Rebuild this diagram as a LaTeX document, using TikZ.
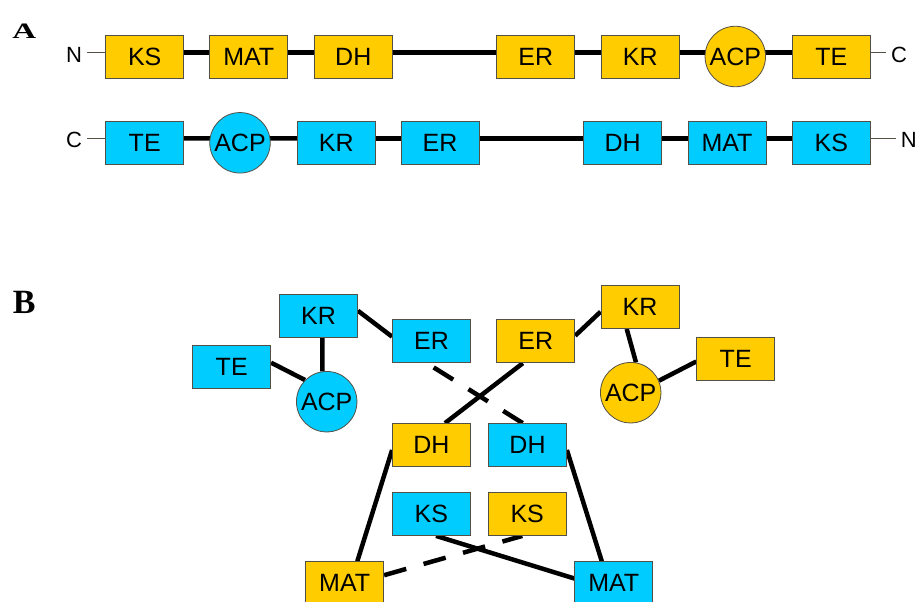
\documentclass[tikz,border=0pt]{standalone}
\usepackage{fontspec}
\setmainfont{Liberation Sans}
\newfontfamily\panelfont{Liberation Serif}
\usetikzlibrary{backgrounds}
\definecolor{pksorange}{RGB}{255,204,0}
\definecolor{pksblue}{RGB}{0,204,255}
\definecolor{rimgray}{RGB}{85,80,70}

\begin{document}
\begin{tikzpicture}[x=1pt,y=-1pt,
  dom/.style={draw=rimgray, line width=0.8pt, minimum width=78pt, minimum height=43pt,
    inner sep=0pt, font=\fontsize{25}{25}\selectfont},
  acp/.style={circle, draw=rimgray, line width=0.8pt, minimum size=60.5pt,
    inner sep=0pt, font=\fontsize{25}{25}\selectfont},
  orng/.style={fill=pksorange},
  blu/.style={fill=pksblue},
  link/.style={line width=4.5pt},
  dlink/.style={line width=4.5pt, dash pattern=on 23pt off 18pt},
  tail/.style={line width=1pt, draw=rimgray},
  term/.style={font=\fontsize{22}{22}\selectfont, inner ysep=0pt, inner xsep=5pt},
  panel/.style={font=\panelfont\bfseries, inner sep=0pt}]

\useasboundingbox (0,0) rectangle (919,602);

% panel letters
\node[panel] (labA) at (24.2,31.2) {\fontsize{22}{22}\selectfont\scalebox{1.5}[1]{A}};
\node[panel] (labB) at (24.2,302) {\fontsize{34}{34}\selectfont B};

% ---- A: the two chains ----
% upper chain, N to C
\node[term] (nA) at (74,54.5) {N};
\node[dom,orng] (oKSa)  at (144.7,56.7) {KS};
\node[dom,orng] (oMATa) at (248.8,56.7) {MAT};
\node[dom,orng] (oDHa)  at (353.3,56.7) {DH};
\node[dom,orng] (oERa)  at (535.7,56.7) {ER};
\node[dom,orng] (oKRa)  at (640.2,56.7) {KR};
\node[acp,orng] (oACPa) at (735.3,56.5) {ACP};
\node[dom,orng] (oTEa)  at (831.3,56.7) {TE};
\node[term] (cA) at (899,54.5) {C};

% lower chain, C to N
\node[term] (cB) at (74,140) {C};
\node[dom,blu] (bTEb)  at (144.7,143.2) {TE};
\node[acp,blu] (bACPb) at (240,142.8) {ACP};
\node[dom,blu] (bKRb)  at (336.2,143.2) {KR};
\node[dom,blu] (bERb)  at (440,143.2) {ER};
\node[dom,blu] (bDHb)  at (622.7,143.2) {DH};
\node[dom,blu] (bMATb) at (727,143.2) {MAT};
\node[dom,blu] (bKSb)  at (831.3,143.2) {KS};
\node[term] (nB) at (908.7,140) {N};

% ---- B: the interleaved dimer ----
\node[dom,blu]  (bKR)  at (318.5,315.5) {KR};
\node[dom,blu]  (bER)  at (431.5,341.3) {ER};
\node[dom,blu]  (bTE)  at (231.7,367.3) {TE};
\node[acp,blu]  (bACP) at (326.7,401.7) {ACP};
\node[dom,orng] (oER)  at (535.8,341.3) {ER};
\node[dom,orng] (oKR)  at (640,307) {KR};
\node[dom,orng] (oTE)  at (735.7,358.5) {TE};
\node[acp,orng] (oACP) at (630.7,392.7) {ACP};
\node[dom,orng] (oDH)  at (431.5,445) {DH};
\node[dom,blu]  (bDH)  at (527.5,445) {DH};
\node[dom,blu]  (bKS)  at (431.3,514) {KS};
\node[dom,orng] (oKS)  at (527.2,514) {KS};
\node[dom,orng] (oMAT) at (344.7,583.2) {MAT};
\node[dom,blu]  (bMAT) at (613.8,583.2) {MAT};

\begin{scope}[on background layer]
  % upper chain linkers
  \draw[link] ([yshift=4.4pt]oKSa.east)  -- ([yshift=4.4pt]oMATa.west);
  \draw[link] ([yshift=4.4pt]oMATa.east) -- ([yshift=4.4pt]oDHa.west);
  \draw[link] ([yshift=4.4pt]oDHa.east)  -- ([yshift=4.4pt]oERa.west);
  \draw[link] ([yshift=4.4pt]oERa.east)  -- ([yshift=4.4pt]oKRa.west);
  \draw[link] ([yshift=4.4pt]oKRa.east)  -- ([yshift=4.2pt]oACPa.center);
  \draw[link] ([yshift=4.2pt]oACPa.center) -- ([yshift=4.4pt]oTEa.west);
  \coordinate (jA1) at ([yshift=4.4pt]oKSa.west);
  \coordinate (jA2) at ([yshift=4.4pt]oTEa.east);
  \draw[tail] (nA.east |- jA1) -- (jA1);
  \draw[tail] (jA2) -- (cA.west |- jA2);

  % lower chain linkers
  \draw[link] ([yshift=4.8pt]bTEb.east)  -- ([yshift=4.4pt]bACPb.center);
  \draw[link] ([yshift=4.4pt]bACPb.center) -- ([yshift=4.8pt]bKRb.west);
  \draw[link] ([yshift=4.8pt]bKRb.east)  -- ([yshift=4.8pt]bERb.west);
  \draw[link] ([yshift=4.8pt]bERb.east)  -- ([yshift=4.8pt]bDHb.west);
  \draw[link] ([yshift=4.8pt]bDHb.east)  -- ([yshift=4.8pt]bMATb.west);
  \draw[link] ([yshift=4.8pt]bMATb.east) -- ([yshift=4.8pt]bKSb.west);
  \coordinate (jB1) at ([yshift=4.8pt]bTEb.west);
  \coordinate (jB2) at ([yshift=4.8pt]bKSb.east);
  \draw[tail] (cB.east |- jB1) -- (jB1);
  \draw[tail] (jB2) -- (nB.west |- jB2);

  % dimer contacts, blue subunit
  \draw[link] ([yshift=4.8pt]bKR.east) -- ([yshift=4.6pt]bER.west);
  \draw[link] ([xshift=3.8pt]bKR.south) -- (bACP.98);
  \draw[link] ([yshift=4.6pt]bTE.east) -- (bACP.135);
  \draw[link] ([yshift=-5pt]bDH.east) -- ([xshift=-12pt]bMAT.north);
  \draw[link] ([xshift=4.7pt]bKS.south) -- ([yshift=4.7pt]bMAT.west);
  \draw[dlink] ([xshift=-4.8pt]bDH.north) -- ([xshift=1.8pt,yshift=-4pt]bER.south);

  % dimer contacts, orange subunit
  \draw[link] ([yshift=5.6pt]oER.east) -- ([yshift=-4.7pt]oKR.west);
  \draw[link] ([xshift=-13.3pt]oKR.south) -- (oACP.80);
  \draw[link] (oACP.23) -- ([yshift=-3pt]oTE.west);
  \draw[link] ([xshift=-13pt]oER.south) -- ([xshift=13.5pt]oDH.north);
  \draw[link] ([yshift=-5pt]oDH.west) -- ([xshift=12.6pt]oMAT.north);
  \draw[dlink] ([yshift=8pt]oMAT.east) -- ([xshift=-4.9pt]oKS.south);
\end{scope}
\end{tikzpicture}
\end{document}
